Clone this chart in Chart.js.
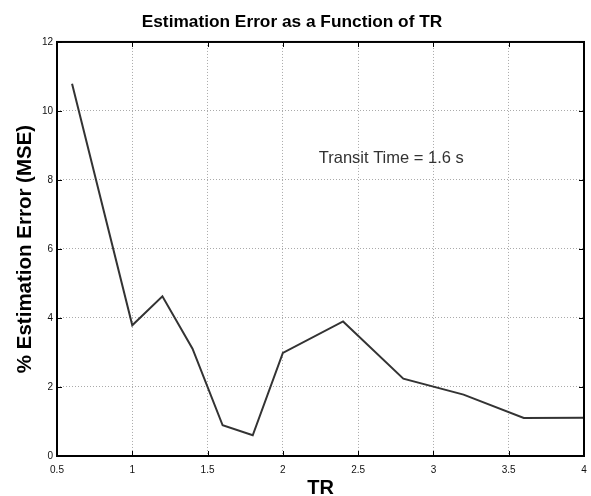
<!DOCTYPE html>
<html>
<head>
<meta charset="utf-8">
<script src="https://cdn.jsdelivr.net/npm/chart.js@4"></script>
<style>
  html, body { margin: 0; padding: 0; background: #fff; }
  #wrap { width: 591px; height: 496px; }
</style>
</head>
<body>
<div id="wrap"><canvas id="c"></canvas></div>
<script>
// values
const trValues = [0.6, 1.0, 1.2, 1.4, 1.6, 1.8, 2.0, 2.4, 2.8, 3.2, 3.6, 4.0];
const errValues = [10.79, 3.79, 4.63, 3.11, 0.89, 0.6, 2.99, 3.9, 2.24, 1.78, 1.1, 1.11];
const xTicks = [0.5, 1, 1.5, 2, 2.5, 3, 3.5, 4];
const yTicks = [0, 2, 4, 6, 8, 10, 12];
const noteText = "Transit Time = 1.6 s";
const notePos = [2.72, 8.62];

const points = trValues.map((x, i) => ({ x: x, y: errValues[i] }));

// frame box + inward ticks + the text note
const framePlugin = {
  id: "frame",
  afterDraw(chart) {
    const { ctx, chartArea: a, scales } = chart;
    ctx.save();
    ctx.strokeStyle = "#000";
    ctx.lineWidth = 1;
    const len = 5;
    ctx.beginPath();
    xTicks.forEach(v => {
      const px = Math.round(scales.x.getPixelForValue(v)) + 0.5;
      ctx.moveTo(px, a.bottom); ctx.lineTo(px, a.bottom - len);
      ctx.moveTo(px, a.top); ctx.lineTo(px, a.top + len);
    });
    yTicks.forEach(v => {
      const py = Math.round(scales.y.getPixelForValue(v)) + 0.5;
      ctx.moveTo(a.left, py); ctx.lineTo(a.left + len, py);
      ctx.moveTo(a.right, py); ctx.lineTo(a.right - len, py);
    });
    ctx.stroke();
    ctx.lineWidth = 2;
    ctx.strokeRect(a.left, a.top, a.right - a.left, a.bottom - a.top);

    ctx.fillStyle = "#333";
    ctx.font = "16.5px 'Liberation Sans', Arial, sans-serif";
    ctx.textAlign = "center";
    ctx.textBaseline = "middle";
    ctx.fillText(noteText, scales.x.getPixelForValue(notePos[0]), scales.y.getPixelForValue(notePos[1]));
    ctx.restore();
  }
};

new Chart(document.getElementById("c"), {
  type: "line",
  data: {
    datasets: [{
      data: points,
      borderColor: "#333",
      borderWidth: 2,
      pointRadius: 0,
      fill: false,
      tension: 0
    }]
  },
  options: {
    responsive: true,
    maintainAspectRatio: false,
    animation: false,
    layout: { padding: { left: 0, right: 7, top: 0, bottom: 0 } },
    plugins: {
      legend: { display: false },
      tooltip: { enabled: false },
      title: {
        display: true,
        text: "Estimation Error as a Function of TR",
        color: "#000",
        font: { family: "'Liberation Sans', Arial, sans-serif", size: 17.3, weight: "bold", lineHeight: 1.2 },
        padding: { top: 12, bottom: 9.2 }
      }
    },
    scales: {
      x: {
        type: "linear",
        min: 0.5,
        max: 4,
        afterBuildTicks: s => { s.ticks = xTicks.map(v => ({ value: v })); },
        afterFit: s => { s.height = 40; s.paddingRight = 0; s.paddingLeft = 0; },
        ticks: {
          color: "#111",
          font: { family: "'Liberation Sans', Arial, sans-serif", size: 10 },
          padding: 8,
          maxRotation: 0,
          callback: v => String(v)
        },
        grid: { color: "#aaa", lineWidth: 1, drawTicks: false },
        border: { display: false, dash: [1, 2] },
        title: {
          display: true,
          text: "TR",
          color: "#000",
          font: { family: "'Liberation Sans', Arial, sans-serif", size: 20, weight: "bold", lineHeight: 0.8 },
          padding: { top: 0, bottom: 0 }
        }
      },
      y: {
        min: 0,
        max: 12,
        afterBuildTicks: s => { s.ticks = yTicks.map(v => ({ value: v })); },
        afterFit: s => { s.width = 57; },
        ticks: {
          color: "#111",
          font: { family: "'Liberation Sans', Arial, sans-serif", size: 10 },
          padding: 4
        },
        grid: { color: "#aaa", lineWidth: 1, drawTicks: false },
        border: { display: false, dash: [1, 2] },
        title: {
          display: true,
          text: "% Estimation Error (MSE)",
          color: "#000",
          font: { family: "'Liberation Sans', Arial, sans-serif", size: 20.5, weight: "bold" },
          padding: { top: 13, bottom: 0 }
        }
      }
    }
  },
  plugins: [framePlugin]
});
</script>
</body>
</html>
